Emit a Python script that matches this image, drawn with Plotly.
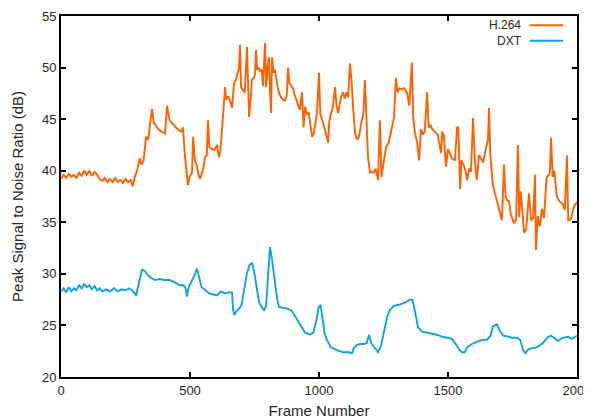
import plotly.graph_objects as go

# ---- data ----
h264_frames = [0, 10, 20, 30, 40, 50, 60, 70, 80, 90, 100, 110, 120, 130, 140, 150, 160, 170, 180, 190,
               200, 210, 220, 230, 240, 250, 260, 270, 278, 287, 295, 305, 312, 320, 330, 338, 345, 353, 360, 368,
               378, 390, 403, 411, 420, 430, 445, 453, 466, 473, 480, 485, 492, 500, 508, 512, 519, 527, 533, 539,
               546, 552, 558, 565, 570, 575, 585, 595, 605, 612, 618, 624, 630, 636, 640, 648, 655, 663, 671, 678,
               686, 690, 694, 698, 705, 712, 721, 725, 729, 735, 740, 748, 752, 756, 760, 766, 772, 778, 783, 791,
               795, 800, 806, 810, 814, 818, 824, 829, 835, 840, 846, 853, 860, 868, 875, 880, 885, 890, 899, 906,
               915, 926, 934, 940, 946, 953, 960, 966, 973, 980, 986, 992, 1000, 1005, 1012, 1020, 1028, 1035, 1040, 1046,
               1054, 1062, 1068, 1074, 1080, 1086, 1093, 1100, 1107, 1113, 1120, 1126, 1132, 1140, 1148, 1155, 1163, 1167, 1172, 1178,
               1184, 1190, 1198, 1205, 1212, 1220, 1229, 1236, 1242, 1250, 1260, 1270, 1280, 1291, 1298, 1305, 1312, 1320, 1330, 1341,
               1350, 1360, 1365, 1372, 1380, 1388, 1395, 1403, 1410, 1419, 1425, 1432, 1440, 1450, 1460, 1473, 1478, 1484, 1492, 1500,
               1508, 1515, 1527, 1535, 1540, 1547, 1552, 1560, 1568, 1574, 1582, 1589, 1597, 1604, 1612, 1620, 1628, 1636, 1644, 1650,
               1655, 1659, 1664, 1674, 1682, 1693, 1709, 1717, 1723, 1730, 1737, 1743, 1756, 1764, 1771, 1776, 1782, 1795, 1803, 1814,
               1822, 1830, 1837, 1841, 1848, 1856, 1864, 1872, 1882, 1895, 1899, 1906, 1912, 1922, 1933, 1944, 1953, 1961, 1966, 1976,
               1988, 2000]
h264_psnr = [39.2, 39.6, 39.3, 39.7, 39.4, 39.6, 39.3, 39.8, 39.5, 40.0, 39.6, 40.0, 39.5, 39.9, 39.6, 39.2, 39.0, 39.3, 38.9, 39.2,
             38.9, 39.3, 38.9, 39.1, 38.8, 39.2, 38.9, 39.1, 38.5, 39.5, 40.0, 41.2, 40.6, 41.0, 43.3, 43.0, 44.5, 46.0, 44.6, 44.4,
             44.0, 43.8, 43.6, 46.3, 45.0, 44.6, 44.2, 44.0, 43.8, 44.2, 41.5, 40.1, 38.6, 39.5, 39.8, 43.3, 41.0, 40.5, 39.6, 39.2,
             39.7, 40.2, 41.3, 41.5, 44.9, 42.3, 42.1, 42.0, 42.5, 41.3, 42.0, 44.6, 46.0, 48.1, 46.9, 47.2, 46.8, 46.1, 48.5, 48.8,
             49.5, 50.0, 52.2, 48.1, 47.8, 47.6, 52.0, 48.5, 45.2, 47.0, 48.8, 49.0, 49.3, 51.7, 49.8, 50.0, 49.6, 49.8, 48.2, 52.4,
             48.1, 49.8, 51.0, 48.0, 45.6, 51.0, 49.5, 49.8, 48.8, 48.1, 47.5, 47.1, 46.9, 46.8, 47.3, 50.0, 48.5, 48.3, 48.0, 47.3,
             46.7, 45.9, 47.6, 44.2, 46.2, 45.5, 45.6, 44.5, 43.3, 43.6, 44.8, 45.6, 49.5, 45.5, 45.0, 44.3, 43.5, 42.7, 44.8, 45.5,
             46.2, 48.1, 46.3, 45.6, 46.5, 47.2, 47.6, 47.0, 47.6, 47.1, 50.4, 48.8, 46.2, 43.6, 43.0, 43.3, 44.5, 44.9, 45.6, 48.8,
             45.2, 41.3, 39.8, 39.9, 39.8, 40.2, 39.1, 44.9, 39.4, 40.6, 42.3, 42.7, 43.8, 45.2, 49.0, 47.6, 48.0, 47.9, 48.0, 47.6,
             46.3, 50.5, 45.2, 43.6, 42.8, 41.0, 44.0, 43.5, 43.8, 47.6, 44.2, 44.4, 44.0, 43.7, 43.5, 41.7, 43.8, 43.4, 40.4, 42.1,
             41.5, 41.2, 41.0, 44.2, 44.2, 38.2, 41.0, 40.6, 40.0, 39.1, 40.2, 39.9, 45.1, 41.0, 39.1, 41.5, 41.2, 40.8, 41.8, 42.5,
             43.0, 46.1, 41.5, 38.6, 37.8, 36.8, 35.2, 40.6, 37.5, 37.1, 37.0, 35.8, 34.9, 35.3, 42.5, 35.5, 38.0, 34.0, 34.3, 37.8,
             35.2, 35.4, 39.6, 32.3, 35.6, 34.6, 36.3, 35.4, 39.3, 39.8, 43.2, 39.4, 40.0, 37.5, 37.0, 36.8, 36.2, 41.5, 35.2, 35.3,
             36.5, 37.0]

dxt_frames = [0, 10, 20, 30, 40, 50, 60, 70, 80, 90, 100, 110, 120, 130, 140, 150, 160, 175, 190, 205,
              220, 235, 250, 265, 280, 291, 300, 308, 314, 325, 335, 350, 365, 380, 400, 420, 440, 460, 475, 483,
              488, 495, 505, 518, 527, 535, 545, 560, 575, 590, 605, 620, 635, 650, 663, 667, 672, 680, 690, 700,
              710, 720, 730, 740, 748, 758, 768, 780, 787, 795, 800, 805, 810, 818, 828, 838, 845, 860, 880, 895,
              910, 926, 946, 965, 978, 990, 998, 1006, 1012, 1022, 1031, 1045, 1070, 1093, 1115, 1128, 1135, 1147, 1160, 1175,
              1185, 1194, 1202, 1215, 1229, 1240, 1255, 1265, 1275, 1290, 1310, 1333, 1353, 1362, 1370, 1384, 1400, 1420, 1440, 1457,
              1478, 1500, 1515, 1530, 1545, 1554, 1565, 1575, 1593, 1612, 1632, 1650, 1665, 1674, 1690, 1700, 1715, 1735, 1750, 1767,
              1780, 1791, 1800, 1812, 1825, 1845, 1868, 1880, 1888, 1900, 1912, 1926, 1945, 1965, 1980, 2000]
dxt_psnr = [28.3, 28.6, 28.2, 28.7, 28.3, 28.6, 28.4, 28.9, 28.6, 29.0, 28.7, 28.9, 28.5, 28.8, 28.4, 28.6, 28.3, 28.5, 28.3, 28.6,
            28.3, 28.5, 28.4, 28.6, 28.3, 27.9, 28.9, 29.8, 30.4, 30.3, 29.9, 29.6, 29.4, 29.5, 29.4, 29.4, 29.2, 28.9, 28.9, 28.6,
            27.8, 28.7, 29.2, 29.9, 30.5, 29.8, 28.7, 28.4, 28.1, 28.0, 27.9, 28.3, 28.1, 28.2, 28.2, 26.5, 26.0, 26.4, 26.6, 27.0,
            28.5, 30.0, 30.8, 31.1, 30.3, 28.5, 27.2, 26.7, 26.5, 26.9, 28.5, 30.7, 32.6, 31.4, 29.2, 27.5, 26.8, 26.7, 26.6, 26.4,
            25.8, 25.2, 24.3, 24.1, 24.3, 25.5, 26.7, 27.0, 26.0, 24.2, 23.6, 22.9, 22.6, 22.4, 22.4, 22.3, 22.8, 23.1, 23.2, 23.2,
            23.3, 24.1, 23.3, 22.9, 22.4, 23.0, 24.8, 25.9, 26.5, 26.9, 27.0, 27.2, 27.5, 27.5, 26.6, 24.8, 24.4, 24.3, 24.2, 24.1,
            23.9, 23.8, 23.7, 23.2, 22.6, 22.4, 22.4, 22.9, 23.2, 23.4, 23.6, 23.6, 24.0, 24.9, 25.1, 24.5, 24.0, 23.9, 23.8, 23.8,
            23.6, 22.6, 22.3, 22.7, 22.8, 22.9, 23.3, 23.7, 23.9, 24.0, 23.8, 23.5, 23.8, 23.9, 23.7, 24.0]

series_names = ["H.264", "DXT"]
series_colors = ["#ff6000", "#12a0e6"]
x_ticks = [0, 500, 1000, 1500, 2000]
y_ticks = [20, 25, 30, 35, 40, 45, 50, 55]

FONT = "Liberation Sans, Arial, sans-serif"
TXT = "#262626"

fig = go.Figure()
fig.add_trace(go.Scatter(x=h264_frames, y=h264_psnr, mode="lines", name=series_names[0],
                         line=dict(color=series_colors[0], width=1.9), showlegend=False))
fig.add_trace(go.Scatter(x=dxt_frames, y=dxt_psnr, mode="lines", name=series_names[1],
                         line=dict(color=series_colors[1], width=1.9), showlegend=False))

axis_common = dict(showgrid=False, zeroline=False, showline=True, linecolor="black", linewidth=2,
                   mirror="ticks", ticks="inside", ticklen=5, tickwidth=1.5, tickcolor="black",
                   automargin=False, ticklabeloverflow="allow",
                   tickfont=dict(family=FONT, size=13, color=TXT))

fig.update_xaxes(range=[0, 2000], tickvals=x_ticks, ticktext=[str(v) for v in x_ticks],
                 title=dict(text="Frame Number", font=dict(family=FONT, size=15, color=TXT), standoff=9),
                 **axis_common)
fig.update_yaxes(range=[20, 55], tickvals=y_ticks, ticktext=[str(v) for v in y_ticks],
                 title=dict(text="Peak Signal to Noise Ratio (dB)", font=dict(family=FONT, size=15, color=TXT),
                            standoff=15),
                 **axis_common)

# gnuplot-style key: labels (one right-aligned text block) with line samples to their right
fig.add_annotation(xref="paper", yref="paper", x=0.895, y=0.953, text="<br>".join(series_names),
                   showarrow=False, xanchor="right", yanchor="middle", align="right", borderpad=0,
                   font=dict(family=FONT, size=12, color=TXT))
key_y = [0.9745, 0.9315]
for color, ky in zip(series_colors, key_y):
    fig.add_shape(type="line", xref="paper", yref="paper", x0=0.909, x1=0.973, y0=ky, y1=ky,
                  line=dict(color=color, width=2))

# the page body has an 8px margin, so the figure is sized and offset to land on the reference's plot box
fig.update_layout(width=583, height=411, margin=dict(l=53, r=14, t=8, b=42),
                  paper_bgcolor="white", plot_bgcolor="white",
                  font=dict(family=FONT, color=TXT))

fig.write_html("out.html")
